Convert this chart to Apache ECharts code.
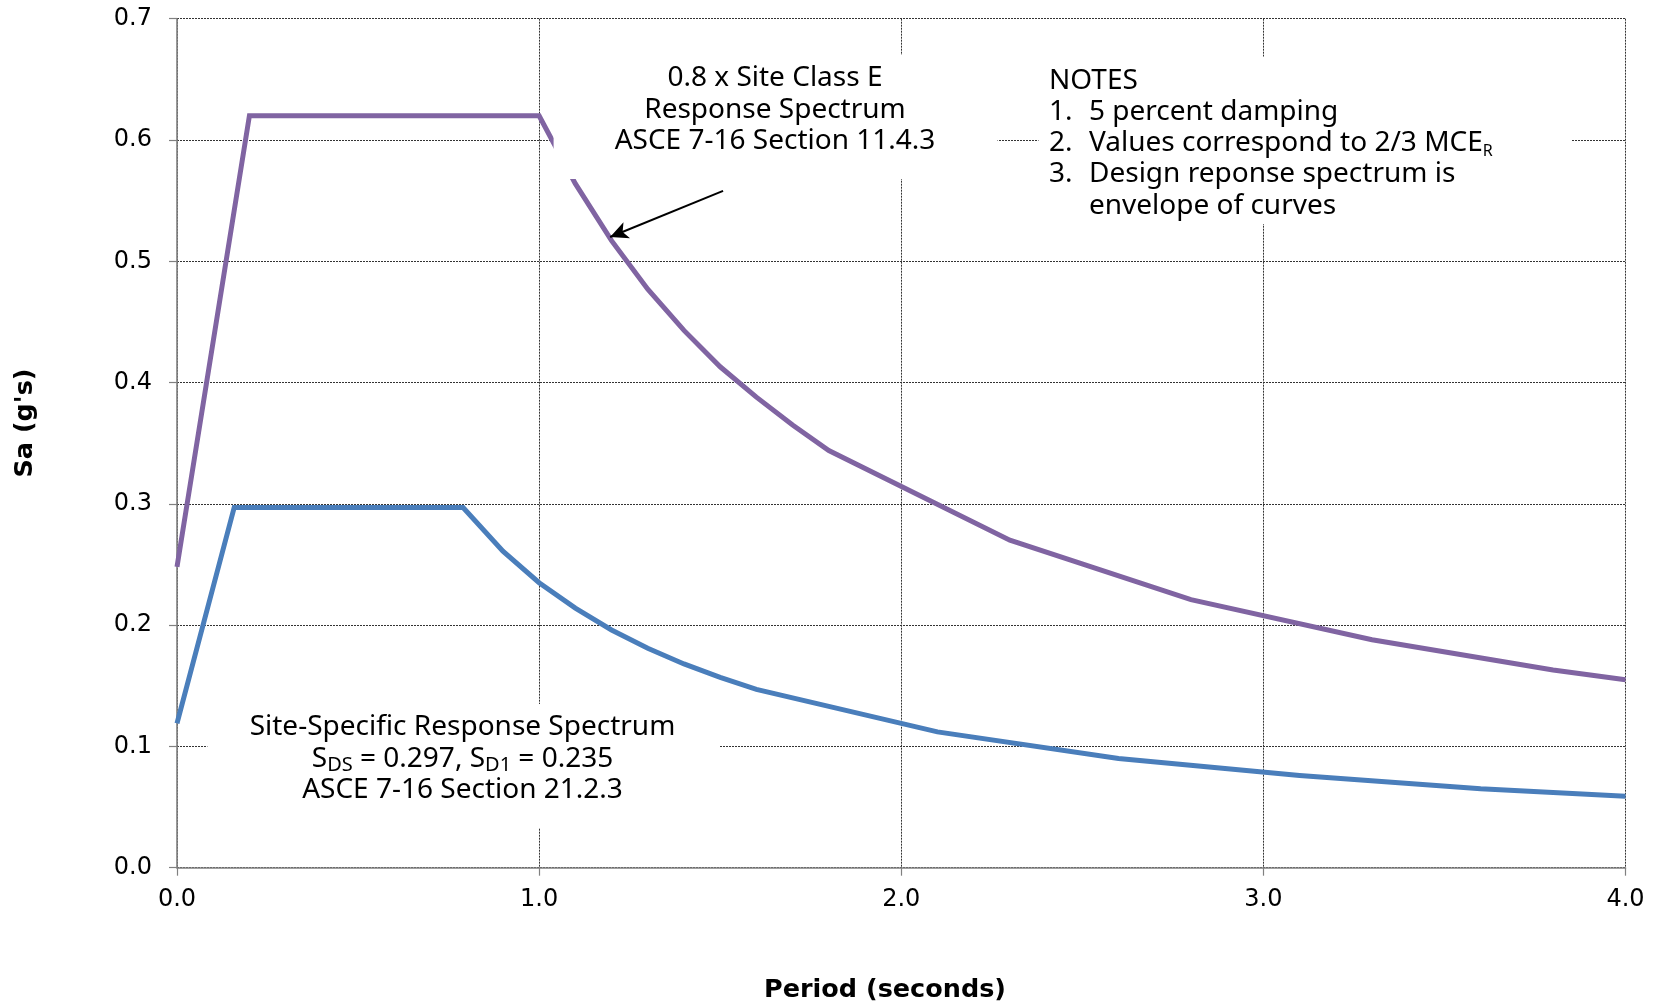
<!DOCTYPE html>
<html>
<head>
<meta charset="utf-8">
<script src="https://cdn.jsdelivr.net/npm/echarts@6/dist/echarts.min.js"></script>
<style>
  html, body { margin: 0; padding: 0; background: #fff; }
  #chart { width: 1657px; height: 1006px; }
</style>
</head>
<body>
<div id="chart"></div>
<script>
// ---- Data ----
const siteClassE_T  = [0, 0.2, 1.0, 1.1, 1.2, 1.3, 1.4, 1.5, 1.6, 1.7, 1.8, 2.3, 2.8, 3.3, 3.8, 4.0];
const siteClassE_Sa = [0.248, 0.620, 0.620, 0.564, 0.517, 0.477, 0.443, 0.413, 0.388, 0.365, 0.344, 0.270, 0.221, 0.188, 0.163, 0.155];

const siteSpecific_T  = [0, 0.158, 0.79, 0.9, 1.0, 1.1, 1.2, 1.3, 1.4, 1.5, 1.6, 2.1, 2.6, 3.1, 3.6, 4.0];
const siteSpecific_Sa = [0.119, 0.297, 0.297, 0.261, 0.235, 0.214, 0.196, 0.181, 0.168, 0.157, 0.147, 0.112, 0.090, 0.076, 0.065, 0.059];

const xTicks = [0, 1, 2, 3, 4];
const yTicks = [0, 0.1, 0.2, 0.3, 0.4, 0.5, 0.6, 0.7];

// annotation arrow (data coordinates: period, Sa)
const arrowTail = [1.508, 0.558];
const arrowTip  = [1.196, 0.520];

const annotationE = ['0.8 x Site Class E', 'Response Spectrum', 'ASCE 7-16 Section 11.4.3'];
const annotationSS = ['Site-Specific Response Spectrum', 'S{sub|DS} = 0.297, S{sub|D1} = 0.235', 'ASCE 7-16 Section 21.2.3'];
const notesTitle = 'NOTES';
const notesNums = ['1.', '2.', '3.', ''];
const notesText = ['5 percent damping', 'Values correspond to 2/3 MCE{r|R}', 'Design reponse spectrum is', 'envelope of curves'];

// ---- Build ----
const zip = (xs, ys) => xs.map((x, i) => [x, ys[i]]);
const chart = echarts.init(document.getElementById('chart'), null, { renderer: 'canvas' });

const FONT = 'Noto Sans';
const TICKFONT = 'DejaVu Sans';
const TITLEFONT = 'DejaVu Sans';

const gridLine = { show: true, lineStyle: { color: '#333', type: [2, 1], width: 1 } };
const axisLine = { show: true, lineStyle: { color: '#808080', width: 1.6 } };

const graphics = [];
function box(x1, y1, x2, y2) {
  graphics.push({ type: 'rect', z: 50, shape: { x: x1, y: y1, width: x2 - x1, height: y2 - y1 }, style: { fill: '#fff' }, silent: true });
}
function txt(text, x, y, align, extra) {
  graphics.push(Object.assign({
    type: 'text', z: 60, x: x, y: y, silent: true,
    style: Object.assign({ text: text, fontFamily: FONT, fontSize: 28, fill: '#000', align: align, verticalAlign: 'middle', lineHeight: 32 }, extra || {})
  }));
}
// white label boxes
box(553.6, 55, 997.5, 179);
box(1038.5, 56.7, 1571.8, 224);
box(207.4, 704, 720, 828);

// top annotation
const topY = [78, 109.7, 141.5];
annotationE.forEach((t, i) => txt(t, 775, topY[i], 'center'));

// site-specific annotation
const ssY = [727.5, 759, 790.3];
annotationSS.forEach((t, i) => txt(t, 462.5, ssY[i], 'center', {
  rich: {
    sub: { fontFamily: FONT, fontSize: 20, lineHeight: 16, verticalAlign: 'bottom', fill: '#000' }
  }
}));

// notes
const notesY = [112, 143.2, 174.4, 205.6];
txt(notesTitle, 1049, 81, 'left');
notesNums.forEach((t, i) => { if (t) txt(t, 1049, notesY[i], 'left'); });
notesText.forEach((t, i) => txt(t, 1089, notesY[i], 'left', {
  rich: { r: { fontFamily: FONT, fontSize: 16, lineHeight: 26, verticalAlign: 'bottom', fill: '#000' } }
}));

// axis titles
graphics.push({ type: 'text', z: 60, x: 25, y: 423, rotation: Math.PI / 2, silent: true,
  style: { text: "Sa (g's)", fontFamily: TITLEFONT, fontWeight: 'bold', fontSize: 25.5, fill: '#000', align: 'center', verticalAlign: 'middle' } });
graphics.push({ type: 'text', z: 60, x: 885, y: 990, silent: true,
  style: { text: 'Period (seconds)', fontFamily: TITLEFONT, fontWeight: 'bold', fontSize: 25.5, fill: '#000', align: 'center', verticalAlign: 'middle' } });

const option = {
  backgroundColor: '#fff',
  animation: false,
  grid: { left: 177, top: 18.7, right: 31.5, bottom: 138.3, containLabel: false },
  xAxis: {
    type: 'value', min: xTicks[0], max: xTicks[xTicks.length - 1], interval: 1,
    axisLine: axisLine,
    axisTick: { show: true, inside: false, length: 8, lineStyle: { color: '#808080', width: 1.2 } },
    axisLabel: { margin: 20, fontFamily: TICKFONT, fontSize: 24, color: '#000', formatter: v => v.toFixed(1) },
    splitLine: gridLine
  },
  yAxis: {
    type: 'value', min: yTicks[0], max: yTicks[yTicks.length - 1], interval: 0.1,
    axisLine: axisLine,
    axisTick: { show: true, inside: false, length: 8, lineStyle: { color: '#808080', width: 1.2 } },
    axisLabel: { margin: 25, fontFamily: TICKFONT, fontSize: 24, color: '#000', formatter: v => v.toFixed(1) },
    splitLine: gridLine
  },
  series: [
    {
      name: 'Site-Specific Response Spectrum', type: 'line', data: zip(siteSpecific_T, siteSpecific_Sa),
      showSymbol: false, symbol: 'none', z: 3,
      lineStyle: { color: '#4A7EBB', width: 5, join: 'miter' }
    },
    {
      name: '0.8 x Site Class E', type: 'line', data: zip(siteClassE_T, siteClassE_Sa),
      showSymbol: false, symbol: 'none', z: 4,
      lineStyle: { color: '#8064A2', width: 5, join: 'miter' },
      markLine: {
        silent: true, animation: false, z: 70,
        symbolSize: [13, 18],
        label: { show: false },
        lineStyle: { color: '#000', width: 2, type: 'solid' },
        data: [[
          { coord: arrowTail, symbol: 'none' },
          { coord: arrowTip, symbol: 'arrow' }
        ]]
      }
    }
  ],
  graphic: graphics
};
chart.setOption(option);
</script>
</body>
</html>
